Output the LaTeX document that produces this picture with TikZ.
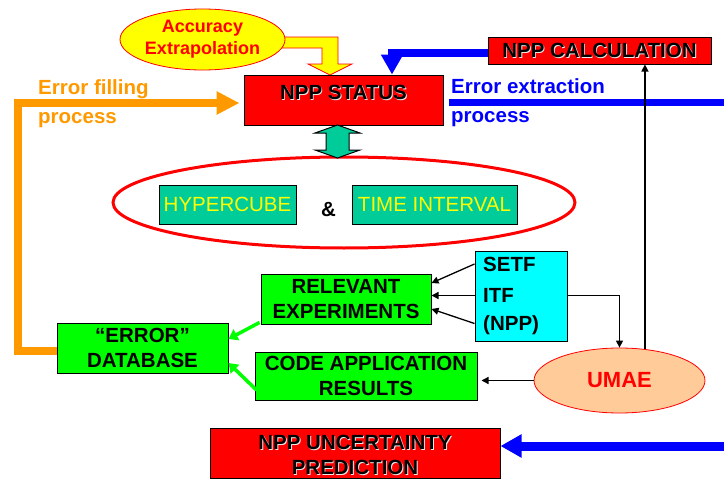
\documentclass[tikz,border=0pt]{standalone}
\usepackage{fontspec}
\setmainfont{Liberation Sans}
\usetikzlibrary{arrows.meta,shapes.geometric,calc}

\definecolor{boxred}{HTML}{FF0000}
\definecolor{boxgreen}{HTML}{00FF00}
\definecolor{boxteal}{HTML}{00CC99}
\definecolor{boxcyan}{HTML}{00FFFF}
\definecolor{boxyellow}{HTML}{FFFF00}
\definecolor{peach}{HTML}{FFCC99}
\definecolor{flowblue}{HTML}{0000FF}
\definecolor{floworange}{HTML}{FF9900}

% black lettering with a light drop shadow
\newcommand\shadowed[1]{\leavevmode\rlap{\kern0.9pt\raisebox{-0.9pt}{\textcolor{white!85!gray}{#1}}}#1}

\begin{document}
\begin{tikzpicture}[x=1pt,y=-1pt,
  box/.style={draw=black, line width=1pt, inner sep=0pt, align=center,
    font=\bfseries\fontsize{20.5}{25}\selectfont},
  redbox/.style={box, fill=boxred},
  greenbox/.style={box, fill=boxgreen},
  tealbox/.style={box, fill=boxteal, text=boxyellow,
    font=\fontsize{20.5}{25}\selectfont},
  lbl/.style={font=\bfseries\fontsize{20.5}{29.5}\selectfont, align=left,
    inner sep=0pt, anchor=west},
  thin arrow/.style={draw=black, line width=1.3pt,
    -{Triangle[length=7pt,width=7pt]}},
  green arrow/.style={draw=boxgreen, line width=3.5pt,
    -{Triangle[length=9pt,width=12pt]}},
  ]
\useasboundingbox (0,0) rectangle (724,479);

% yellow bent block arrow from the extrapolation bubble
\draw[fill=boxyellow, draw=boxred, line width=0.8pt, line join=miter]
  (280,37) -- (338,37) -- (338,64) -- (352,64) -- (330,75) -- (308,64)
  -- (322,64) -- (322,48) -- (280,48) -- cycle;

\node[ellipse, draw=boxred, line width=0.8pt, fill=boxyellow,
  minimum width=165pt, minimum height=61pt, inner sep=0pt, text=boxred,
  align=center, font=\bfseries\fontsize{18}{22}\selectfont]
  (acc) at (202.5,39.5) {Accuracy\\Extrapolation};

% boxes
\node[redbox, minimum width=199pt, minimum height=50pt, text depth=15pt]
  (status) at (343.5,100) {\shadowed{NPP STATUS}};
\node[redbox, minimum width=223pt, minimum height=27pt]
  (calc) at (599.5,50.5) {\shadowed{NPP CALCULATION}};
\node[redbox, minimum width=290pt, minimum height=50pt, text height=44pt]
  (unc) at (355,453) {\shadowed{NPP UNCERTAINTY}\\\shadowed{PREDICTION}};

\node[tealbox, minimum width=137pt, minimum height=39pt]
  (hyper) at (227.5,204.5) {HYPERCUBE};
\node[tealbox, minimum width=165pt, minimum height=39pt]
  (time) at (434.5,204.5) {TIME INTERVAL};
\node[font=\bfseries\fontsize{20.5}{25}\selectfont, inner sep=0pt]
  (amp) at (328.5,209.5) {\&};
\node[ellipse, draw=boxred, line width=3pt, minimum width=462pt,
  minimum height=91pt, inner sep=0pt] (group) at (344,202.5) {};

% double arrow between status and the hypercube group
\draw[fill=boxteal, draw=black, line width=1pt, line join=miter]
  (337.5,125) -- (360,133) -- (349,133) -- (349,150) -- (360,150)
  -- (337.5,158) -- (315,150) -- (326,150) -- (326,133) -- (315,133) -- cycle;

\node[greenbox, minimum width=170pt, minimum height=50pt]
  (rel) at (346,299) {RELEVANT\\EXPERIMENTS};
\node[box, fill=boxcyan, minimum width=92pt, minimum height=90pt]
  (tests) at (521,296) {};
\node[lbl] (setf) at (483,264) {SETF};
\node[lbl] (itf) at (483,295.5) {ITF};
\node[lbl] (npp) at (483,325.5) {(NPP)};

\node[greenbox, minimum width=171pt, minimum height=50pt]
  (errdb) at (142.5,348) {“ERROR”\\DATABASE};
\node[greenbox, minimum width=222pt, minimum height=48pt]
  (code) at (366,376) {CODE APPLICATION\\RESULTS};

\node[ellipse, draw=boxred, line width=0.8pt, fill=peach,
  minimum width=171pt, minimum height=65pt, inner sep=0pt, text=boxred,
  font=\bfseries\fontsize{22}{26}\selectfont] (umae) at (619.5,380.5) {UMAE};

% process labels
\node[lbl, text=floworange] (filllbl) at (38,103.5) {Error filling\\process};
\node[lbl, text=flowblue] (extrlbl) at (451,102.5) {Error extraction\\process};

% thick flow arrows
\draw[floworange, line width=8pt, line join=miter,
  -{Triangle[length=23pt,width=22pt]}]
  ($(errdb.west)+(0,3)$) -- ++(-39,0) |- ($(status.west)+(-4,3)$);
\draw[flowblue, line width=8pt, line join=miter,
  -{Triangle[length=20pt,width=21pt]}]
  ($(calc.west)+(0,2.5)$) -| ($(status.north)+(48.5,0)$);
\coordinate (extrend) at (726,102.5);
\draw[flowblue, line width=7pt] ($(status.east)+(5,2.5)$) -- (extrend);
\coordinate (uncsrc) at (726,446);
\draw[flowblue, line width=9pt, -{Triangle[length=21pt,width=22pt]}]
  (uncsrc) -- ($(unc.east)+(0,-7)$);

% thin connectors
\draw[thin arrow] (setf.west -| tests.west) -- ($(rel.east)+(0,-16)$);
\draw[thin arrow] (itf.west -| tests.west) -- (itf.west -| rel.east);
\draw[thin arrow] ($(npp.west -| tests.west)+(0,-2)$) -- ($(rel.east)+(0,10)$);
\draw[thin arrow] (itf.west -| tests.east) -| (umae.north);
\draw[thin arrow] (umae.51) -- (umae.51 |- calc.south);
\draw[thin arrow] (umae.west) -- ($(umae.west -| code.east)+(4,0)$);

% green feeds into the database
\draw[green arrow] ($(rel.south west)+(-1,-2)$) -- ($(errdb.east)+(0,-9)$);
\draw[green arrow] ($(code.west)+(2,14)$) -- ($(errdb.east)+(0,15)$);
\end{tikzpicture}
\end{document}
